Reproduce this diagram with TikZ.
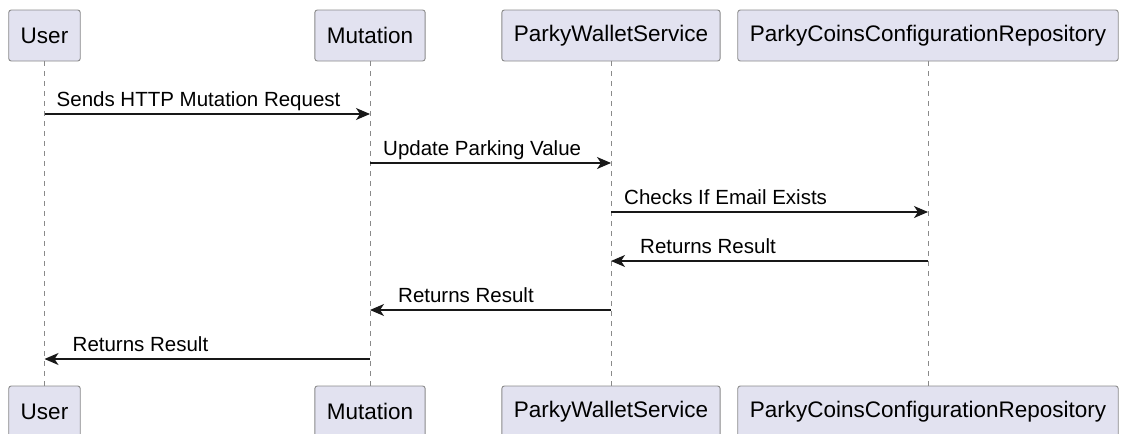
\documentclass[tikz,border=0pt]{standalone}
\usepackage{fontspec}
\setmainfont{Liberation Sans}
\usetikzlibrary{arrows.meta}
\definecolor{partfill}{HTML}{E2E2F0}
\definecolor{partline}{HTML}{8A8A8A}
\definecolor{msgline}{HTML}{181818}

\begin{document}
\begin{tikzpicture}[x=1pt, y=1pt,%
% common options for the participant boxes:
part/.style = {draw=partline, fill=partfill, rounded corners=2.5pt, line width=0.9pt,
            minimum height=51pt, inner xsep=12pt, inner ysep=0, align=center,
            font=\fontsize{22.5}{27}\selectfont},
% common options for lifelines and messages:
life/.style = {draw=partline, dash pattern=on 5pt off 5pt, line width=0.8pt},
msg/.style = {draw=msgline, line width=1.3pt, -{Stealth[length=14pt,width=12pt,inset=4pt]}},
lbl/.style = {anchor=base west, inner sep=0, font=\fontsize{20.5}{24}\selectfont}]
\useasboundingbox (0,0) rectangle (1128,-434);
\clip (0,0) rectangle (1128,-434);

% lifelines first, boxes on top
\coordinate (uL) at (44.5,-61);
\coordinate (mL) at (370,-61);
\coordinate (wL) at (611,-61);
\coordinate (rL) at (928,-61);

% top participants
\node[part] (uT) at (44.5,-35.5) {User};
\node[part] (mT) at (370,-35.5) {Mutation};
\node[part] (wT) at (611,-35.5) {ParkyWalletService};
\node[part] (rT) at (928,-35.5) {ParkyCoinsConfigurationRepository};

% bottom participants
\node[part] (uB) at (44.5,-411.5) {User};
\node[part] (mB) at (370,-411.5) {Mutation};
\node[part] (wB) at (611,-411.5) {ParkyWalletService};
\node[part] (rB) at (928,-411.5) {ParkyCoinsConfigurationRepository};

\draw[life] (uT.south) -- (uB.north);
\draw[life] (mT.south) -- (mB.north);
\draw[life] (wT.south) -- (wB.north);
\draw[life] (rT.south) -- (rB.north);

% messages
\draw[msg] (uT.south |- 0,-114) -- (mT.south |- 0,-114);
\node[lbl] (M1) at (56.5,-106) {Sends HTTP Mutation Request};

\draw[msg] (mT.south |- 0,-163) -- (wT.south |- 0,-163);
\node[lbl] (M2) at (383,-155) {Update Parking Value};

\draw[msg] (wT.south |- 0,-212) -- (rT.south |- 0,-212);
\node[lbl] (M3) at (624,-204) {Checks If Email Exists};

\draw[msg] (rT.south |- 0,-261) -- (wT.south |- 0,-261);
\node[lbl] (M4) at (640,-253) {Returns Result};

\draw[msg] (wT.south |- 0,-310) -- (mT.south |- 0,-310);
\node[lbl] (M5) at (398,-302) {Returns Result};

\draw[msg] (mT.south |- 0,-359) -- (uT.south |- 0,-359);
\node[lbl] (M6) at (72.5,-351) {Returns Result};
\end{tikzpicture}
\end{document}
